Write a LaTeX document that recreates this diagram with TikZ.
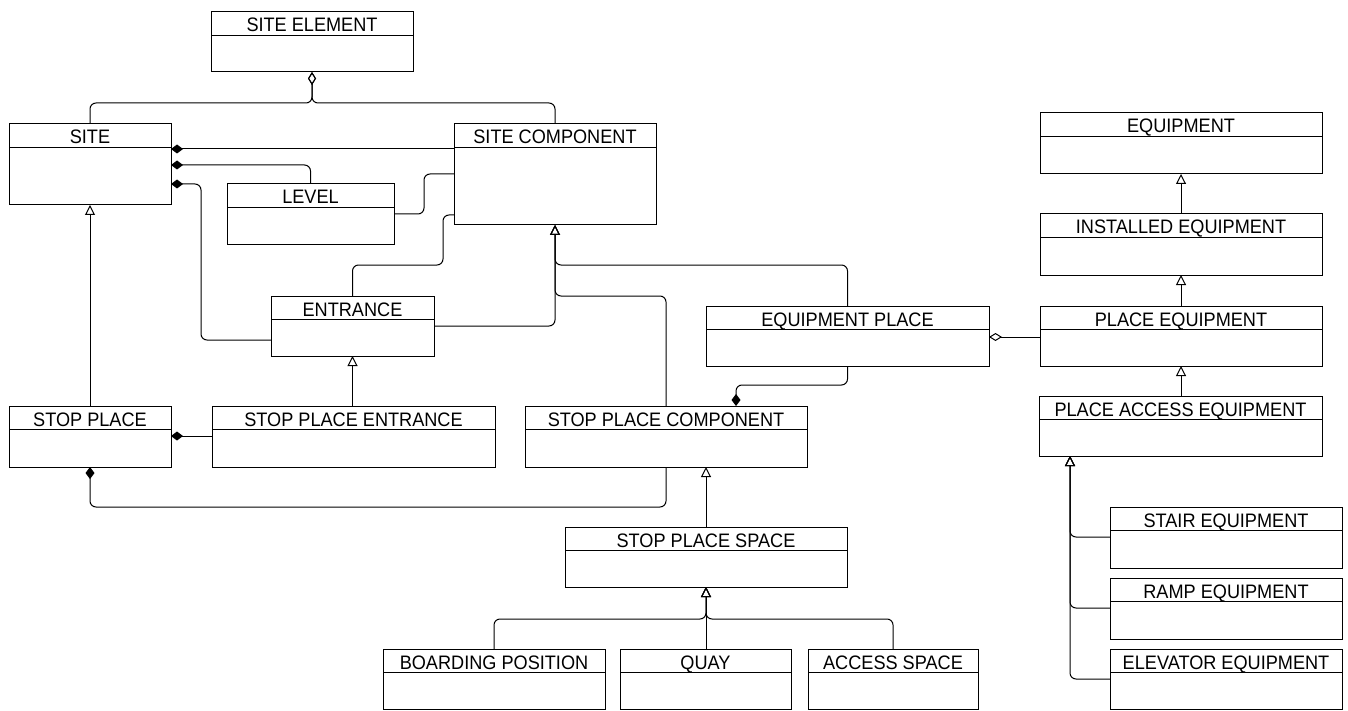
\documentclass[tikz,border=0pt]{standalone}
\usepackage{fontspec}
\setmainfont[FakeStretch=0.93]{Liberation Sans}
\usetikzlibrary{arrows.meta,calc}
\tikzset{
  cls/.style={draw=black, line width=1pt, rectangle, inner sep=0pt, outer sep=0pt, anchor=north west},
  clsline/.style={draw=black, line width=1pt},
  title/.style={inner sep=0pt, font=\fontsize{19.5}{21}\selectfont, text=black},
  conn/.style={draw=black, line width=1pt, rounded corners=6pt},
  gen/.style={conn, -{Triangle[open, width=10pt, length=10pt]}},
  comp/.style={conn, -{Diamond[width=9pt, length=12pt]}},
  agg/.style={conn, -{Diamond[open, width=8pt, length=13pt]}},
}
\newcommand{\umlbox}[6]{%
  \node[cls, minimum width={#4-#2}, minimum height={#5-#3}] (#1) at (#2,#3) {};
  \draw[clsline] ([yshift=-23.5pt]#1.north west) -- ([yshift=-23.5pt]#1.north east);
  \node[title, anchor=base] (#1-t) at ($(#1.north)+(0,20)$) {#6};
}
\begin{document}
\begin{tikzpicture}[x=1pt, y=-1pt]
\useasboundingbox (0,0) rectangle (1348,711);
% classes
\umlbox{se}{211}{12}{413}{72}{SITE ELEMENT}
\umlbox{site}{9}{124}{171}{205}{SITE}
\umlbox{sc}{454}{124}{656}{225}{SITE COMPONENT}
\umlbox{level}{227}{184}{394}{245}{LEVEL}
\umlbox{ent}{271}{296}{434}{356}{ENTRANCE}
\umlbox{sp}{9}{406}{171}{467}{STOP PLACE}
\umlbox{spe}{212}{406}{495}{467}{STOP PLACE ENTRANCE}
\umlbox{spc}{525}{406}{807}{467}{STOP PLACE COMPONENT}
\umlbox{ep}{706}{306}{989}{366}{EQUIPMENT PLACE}
\umlbox{eq}{1040}{113}{1322}{174}{EQUIPMENT}
\umlbox{ie}{1040}{214}{1322}{275}{INSTALLED EQUIPMENT}
\umlbox{pe}{1040}{306}{1322}{366}{PLACE EQUIPMENT}
\umlbox{pae}{1039}{396}{1322}{456}{PLACE ACCESS EQUIPMENT}
\umlbox{sps}{565}{527}{847}{587}{STOP PLACE SPACE}
\umlbox{bp}{383}{649}{605}{709}{BOARDING POSITION}
\umlbox{quay}{620}{649}{791}{709}{QUAY}
\umlbox{as}{808}{649}{978}{709}{ACCESS SPACE}
\umlbox{stair}{1110}{507}{1342}{568}{STAIR EQUIPMENT}
\umlbox{ramp}{1110}{578}{1342}{639}{RAMP EQUIPMENT}
\umlbox{elev}{1110}{649}{1342}{709}{ELEVATOR EQUIPMENT}
% aggregation to SITE ELEMENT
\draw[agg] (site.north) -- (site.north |- 0,103) -| (se.south);
\draw[agg] (sc.north) -- (sc.north |- 0,103) -| (se.south);
% compositions to SITE
\draw[comp] (sc.west |- 0,149) -- (site.east |- 0,149);
\draw[comp] (level.north) |- (site.east |- 0,165);
\draw[comp] (ent.west |- 0,340) -| (201,184) -- (site.east |- 0,184);
% associations to SITE COMPONENT
\draw[conn] (level.east |- 0,214) -| (424,174) -- (sc.west |- 0,174);
\draw[conn] (ent.north) |- (443,265) |- (sc.west |- 0,215);
% generalizations to SITE COMPONENT
\draw[gen] (ent.east |- 0,326) -| (sc.south);
\draw[gen] (ep.north) -- (ep.north |- 0,265) -| (sc.south);
\draw[gen] (spc.north) -- (spc.north |- 0,296) -| (sc.south);
% other generalizations
\draw[gen] (ent.south |- spe.north) -- (ent.south);
\draw[gen] (sp.north) -- (site.south);
\draw[gen] (sps.north) -- (sps.north |- spc.south);
\draw[gen] (ie.north) -- (eq.south);
\draw[gen] (pe.north) -- (pe.north |- ie.south);
\draw[gen] (pae.north -| pe.north) -- (pe.south);
% compositions to STOP PLACE
\draw[comp] (spe.west |- 0,436) -- (sp.east |- 0,436);
\draw[comp] (spc.south) -- (spc.south |- 0,507) -| (sp.south);
% composition to STOP PLACE COMPONENT
\draw[comp] (ep.south) -- ++(0,19) -| ($(spc.north)+(70,0)$);
% aggregation PLACE EQUIPMENT -> EQUIPMENT PLACE
\draw[agg] (pe.west |- 0,337) -- (ep.east |- 0,337);
% access equipment tree
\draw[gen] (stair.west |- 0,537) -| ($(pae.south west)+(31,0)$);
\draw[gen] (ramp.west |- 0,608) -| ($(pae.south west)+(31,0)$);
\draw[gen] (elev.west |- 0,679) -| ($(pae.south west)+(31,0)$);
% stop place space tree
\draw[gen] (bp.north) -- (bp.north |- 0,619) -| (sps.south);
\draw[gen] (quay.north -| sps.south) -- (sps.south);
\draw[gen] (as.north) -- (as.north |- 0,619) -| (sps.south);
\end{tikzpicture}
\end{document}
